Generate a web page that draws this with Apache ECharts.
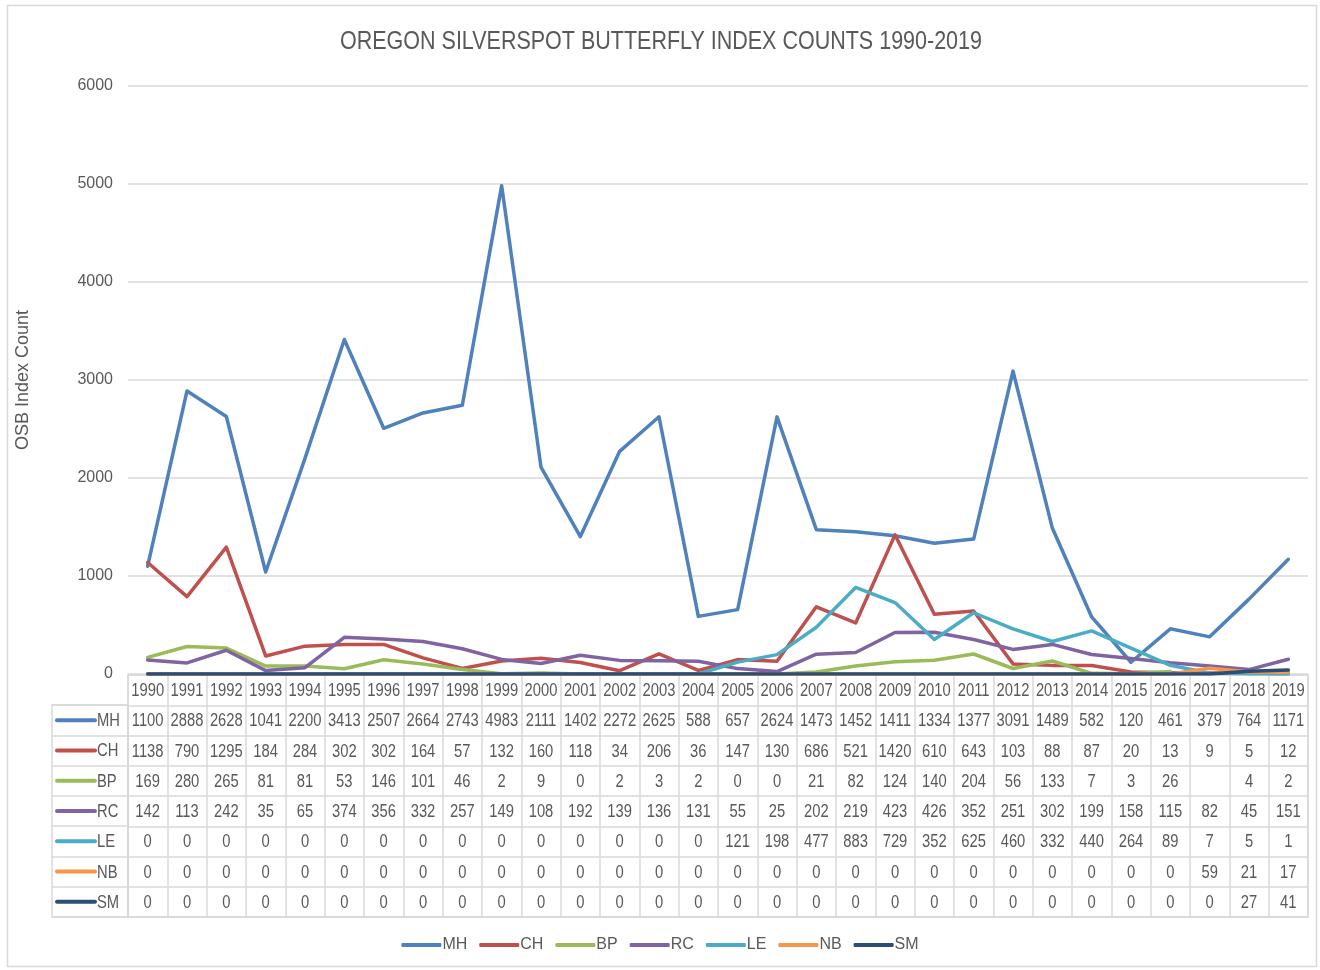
<!DOCTYPE html>
<html>
<head>
<meta charset="utf-8">
<script src="https://cdn.jsdelivr.net/npm/echarts@6/dist/echarts.min.js"></script>
<style>
  html, body { margin: 0; padding: 0; background: #fff; }
  #chart { width: 1320px; height: 970px; }
</style>
</head>
<body>
<div id="chart"></div>
<script>
const years = ['1990','1991','1992','1993','1994','1995','1996','1997','1998','1999',
  '2000','2001','2002','2003','2004','2005','2006','2007','2008','2009',
  '2010','2011','2012','2013','2014','2015','2016','2017','2018','2019'];
const seriesNames = ['MH', 'CH', 'BP', 'RC', 'LE', 'NB', 'SM'];
const MH = [1100,2888,2628,1041,2200,3413,2507,2664,2743,4983,2111,1402,2272,2625,588,657,2624,1473,1452,1411,1334,1377,3091,1489,582,120,461,379,764,1171];
const CH = [1138,790,1295,184,284,302,302,164,57,132,160,118,34,206,36,147,130,686,521,1420,610,643,103,88,87,20,13,9,5,12];
const BP = [169,280,265,81,81,53,146,101,46,2,9,0,2,3,2,0,0,21,82,124,140,204,56,133,7,3,26,null,4,2];
const RC = [142,113,242,35,65,374,356,332,257,149,108,192,139,136,131,55,25,202,219,423,426,352,251,302,199,158,115,82,45,151];
const LE = [0,0,0,0,0,0,0,0,0,0,0,0,0,0,0,121,198,477,883,729,352,625,460,332,440,264,89,7,5,1];
const NB = [0,0,0,0,0,0,0,0,0,0,0,0,0,0,0,0,0,0,0,0,0,0,0,0,0,0,0,59,21,17];
const SM = [0,0,0,0,0,0,0,0,0,0,0,0,0,0,0,0,0,0,0,0,0,0,0,0,0,0,0,0,27,41];
const yTicks = [0, 6000, 1000]; // min, max, interval

const values = [MH, CH, BP, RC, LE, NB, SM];
const colors = ['#4F81BD', '#C0504D', '#9BBB59', '#8064A2', '#4BACC6', '#F79646', '#2C4D75'];
const txt = '#595959';
const rule = '#d9d9d9';
const fam = '"Liberation Sans", Arial, sans-serif';
const squeeze = 0.82; // Excel's Calibri is narrower than Liberation Sans

// table cells: row 0 = years header, rows 1..7 = series
const cellData = [];
const cellText = [];
years.forEach((y, i) => { cellData.push([i, 0]); cellText.push(y); });
values.forEach((arr, r) => {
  arr.forEach((v, i) => {
    cellData.push([i, r + 1]);
    cellText.push(v === null ? '' : String(v));
  });
});
const rowCats = ['yr'].concat(seriesNames);

const chart = echarts.init(document.getElementById('chart'));

const lineSeries = seriesNames.map((name, k) => ({
  name: name,
  type: 'line',
  xAxisIndex: 0,
  yAxisIndex: 0,
  data: values[k],
  showSymbol: false,
  symbol: 'none',
  connectNulls: false,
  lineStyle: { color: colors[k], width: 3.5, cap: 'round', join: 'round' },
  itemStyle: { color: colors[k] },
  emphasis: { disabled: true }
}));

chart.setOption({
  animation: false,
  legend: {
    data: seriesNames,
    left: 'center', top: 932,
    icon: 'roundRect', itemWidth: 40, itemHeight: 4, itemGap: 12,
    textStyle: { color: txt, fontFamily: fam, fontSize: 16, padding: [0, 0, 0, -4] }
  },
  graphic: [
    { type: 'rect', shape: { x: 7.5, y: 5.5, width: 1309, height: 961 },
      style: { fill: null, stroke: rule, lineWidth: 1.5 }, silent: true, z: -1 },
    { type: 'text', x: 661, y: 42, scaleX: 0.86,
      style: { text: 'OREGON SILVERSPOT BUTTERFLY INDEX COUNTS 1990-2019', fill: txt,
        font: '25px ' + fam, align: 'center', verticalAlign: 'middle' } }
  ],
  grid: [
    { left: 128, right: 12, top: 86, height: 588 },
    { left: 128, right: 12, top: 675, height: 242, show: true, borderColor: rule, borderWidth: 1.5, backgroundColor: 'transparent' },
    { left: 52, width: 76, top: 705, height: 212, show: true, borderColor: rule, borderWidth: 1.5, backgroundColor: 'transparent' }
  ],
  xAxis: [
    { gridIndex: 0, type: 'category', data: years, boundaryGap: true,
      axisLine: { show: true, lineStyle: { color: rule } }, axisTick: { show: false }, axisLabel: { show: false } },
    { gridIndex: 1, type: 'category', data: years, boundaryGap: true,
      axisLine: { show: false }, axisTick: { show: false }, axisLabel: { show: false },
      splitLine: { show: true, interval: 0, lineStyle: { color: rule, width: 1.5 } } },
    { gridIndex: 2, type: 'value', min: 0, max: 76, show: false }
  ],
  yAxis: [
    { gridIndex: 0, type: 'value', min: yTicks[0], max: yTicks[1], interval: yTicks[2],
      name: 'OSB Index Count', nameLocation: 'middle', nameGap: 96,
      nameTextStyle: { color: txt, fontFamily: fam, fontSize: 18 },
      axisLine: { show: false }, axisTick: { show: false },
      axisLabel: { color: txt, fontFamily: fam, fontSize: 16, margin: 15, formatter: v => String(v) },
      splitLine: { lineStyle: { color: rule, width: 1.5 } } },
    { gridIndex: 1, type: 'category', data: rowCats, inverse: true, boundaryGap: true,
      axisLine: { show: false }, axisTick: { show: false }, axisLabel: { show: false },
      splitLine: { show: true, interval: 0, lineStyle: { color: rule, width: 1.5 } } },
    { gridIndex: 2, type: 'category', data: seriesNames, inverse: true, boundaryGap: true,
      axisLine: { show: false }, axisTick: { show: false }, axisLabel: { show: false },
      splitLine: { show: true, interval: 0, lineStyle: { color: rule, width: 1.5 } } }
  ],
  series: lineSeries.concat([
    {
      type: 'custom',
      xAxisIndex: 1, yAxisIndex: 1,
      data: cellData,
      silent: true,
      renderItem: function (params, api) {
        const p = api.coord([api.value(0), api.value(1)]);
        return {
          type: 'text', x: p[0], y: p[1] + 1, scaleX: squeeze,
          style: { text: cellText[params.dataIndex], fill: txt, font: '18px ' + fam, align: 'center', verticalAlign: 'middle' }
        };
      }
    },
    {
      type: 'custom',
      xAxisIndex: 2, yAxisIndex: 2,
      data: seriesNames.map((n, i) => [0, i]),
      silent: true,
      renderItem: function (params, api) {
        const i = params.dataIndex;
        const p0 = api.coord([5, i]);
        const p1 = api.coord([43, i]);
        const pt = api.coord([45, i]);
        return {
          type: 'group',
          children: [
            { type: 'line', shape: { x1: p0[0], y1: p0[1], x2: p1[0], y2: p1[1] },
              style: { stroke: colors[i], lineWidth: 4, lineCap: 'round' } },
            { type: 'text', x: pt[0], y: pt[1] + 1, scaleX: squeeze,
              style: { text: seriesNames[i], fill: txt, font: '18px ' + fam, align: 'left', verticalAlign: 'middle' } }
          ]
        };
      }
    }
  ])
});
</script>
</body>
</html>
